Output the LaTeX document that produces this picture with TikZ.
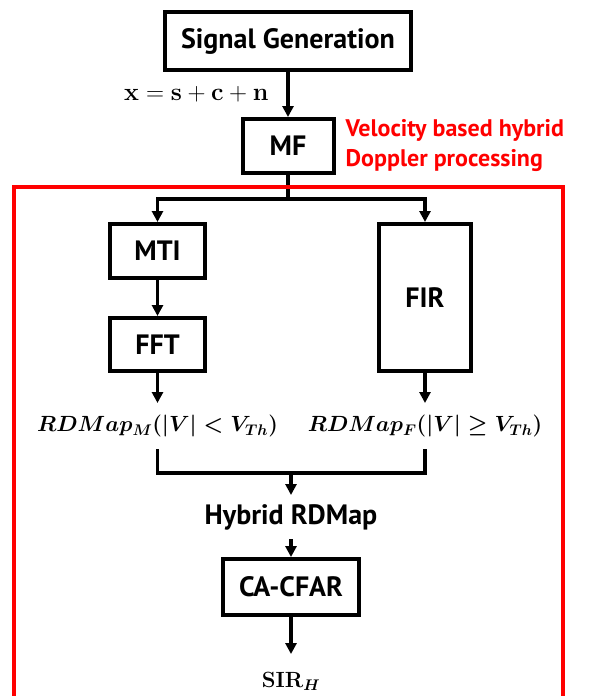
\RequirePackage{fix-cm}
\documentclass[tikz,border=0pt]{standalone}
\usepackage[no-math]{fontspec}
\setmainfont{PT Sans}
\usepackage{amsmath,bm}
\usetikzlibrary{arrows.meta,positioning}
\definecolor{framered}{RGB}{255,0,0}
\newcommand{\boxfont}{\fontsize{28}{32}\selectfont\bfseries}
\newcommand{\notefont}{\fontsize{24}{30}\selectfont\bfseries}
\newcommand{\mathfont}{\fontsize{22}{26}\selectfont\boldmath}

\begin{document}
\begin{tikzpicture}[x=1pt, y=-1pt,
  blk/.style={draw, line width=4pt, inner sep=0pt, align=center, font=\boxfont},
  lbl/.style={inner xsep=0pt, inner ysep=12pt, font=\mathfont},
  arr/.style={-{Triangle[length=11pt,width=11pt]}, line width=3.2pt},
  wire/.style={line width=3.2pt}]
\useasboundingbox (0,0) rectangle (589,696);
% main chain
\node[blk, minimum width=246pt, minimum height=58pt] (gen) at (288,41) {Signal Generation};
\node[blk, minimum width=91pt, minimum height=54pt, below=45pt of gen] (mf) {MF};
\node[font=\notefont, text=framered, align=left, inner sep=0pt, right=10pt of mf] (note)
  {Velocity based hybrid\\Doppler processing};
% two branches
\node[blk, minimum width=95pt, minimum height=54pt] (mti) at (157.5,251) {MTI};
\node[blk, minimum width=95pt, minimum height=53pt, below=36pt of mti] (fft) {FFT};
\node[blk, minimum width=92pt, minimum height=147pt] (fir) at (425,297.5) {FIR};
\node[lbl, below=30pt of fft] (rdm) {$RDMap_M(|V|<V_{Th})$};
\node[lbl, below=30pt of fir] (rdf) {$RDMap_F(|V|\geq V_{Th})$};
\coordinate (split) at (288,199);
\coordinate (join) at (291,473);
% merged path
\node[font=\boxfont, inner xsep=0pt, inner ysep=9pt, below=22pt of join] (hyb) {Hybrid RDMap};
\node[blk, minimum width=136pt, minimum height=56pt, below=18pt of hyb] (cfar) {CA-CFAR};
\node[font=\mathfont, inner xsep=0pt, inner ysep=18pt, below=37pt of cfar] (sir) {$\mathbf{SIR}_{\bm{H}}$};
% connectors
\draw[arr] (gen) -- node[left=18pt, font=\fontsize{25}{28}\selectfont, inner sep=0pt] (xeq) {$\mathbf{x}=\mathbf{s}+\mathbf{c}+\mathbf{n}$} (mf);
\draw[wire] (mf) -- (split);
\draw[arr] (split) -| (mti);
\draw[arr] (split) -| (fir);
\draw[arr] (mti) -- (fft);
\draw[arr] (fft) -- (rdm);
\draw[arr] (fir) -- (rdf);
\draw[wire] (rdm.south -| fft.south) |- (join) -| (rdf.south -| fir.south);
\draw[arr] (join) -- (hyb);
\draw[arr] (hyb) -- (cfar);
\draw[arr] (cfar) -- (sir);
% processing frame
\draw[framered, line width=4pt] (14,700) -- (14,187) -- (563,187) -- (563,700);
\end{tikzpicture}
\end{document}
